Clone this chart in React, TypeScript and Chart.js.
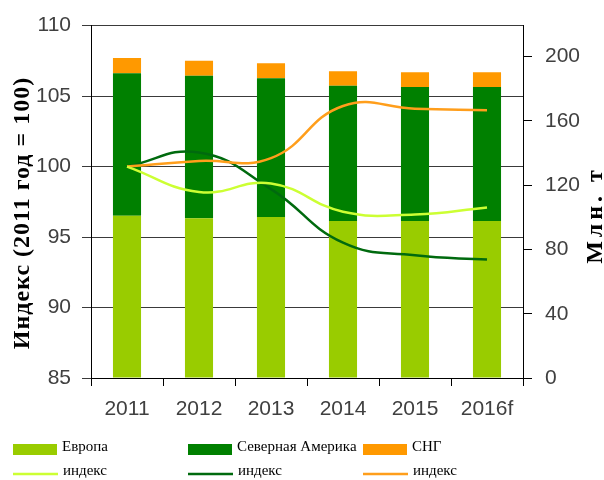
import React, { useEffect, useRef } from "react";
import { Chart, registerables } from "chart.js";

Chart.register(...registerables);

const categories = ["2011", "2012", "2013", "2014", "2015", "2016f"];
// Volumes, million tonnes (right axis)
const europeVolume = [101.0, 99.4, 100.2, 97.7, 97.7, 97.7];
const northAmericaVolume = [88.7, 88.7, 86.4, 84.2, 83.4, 83.4];
const cisVolume = [9.5, 9.4, 9.3, 9.0, 9.2, 9.2];
// Index, 2011 = 100 (left axis)
const europeIndex = [100, 98.2, 98.8, 96.8, 96.6, 97.1];
const northAmericaIndex = [100, 101.0, 98.4, 94.6, 93.7, 93.4];
const cisIndex = [100, 100.4, 100.6, 104.3, 104.1, 104.0];
// Axes
const leftMin = 85;
const leftMax = 110;
const leftStep = 5;
const rightMin = 0;
const rightMax = 219.3;
const rightStep = 40;
const rightLastTick = 200;

const leftTitle = "Индекс (2011 год = 100)";
const rightTitle = "Млн. т";
const legendRow1 = ["Европа", "Северная Америка", "СНГ"];
const legendRow2 = ["индекс", "индекс", "индекс"];

const C_EU = "#99CC00";
const C_NA = "#008000";
const C_CIS = "#FF9900";
const C_EU_L = "#CCFF33";
const C_NA_L = "#006A0E";
const C_CIS_L = "#FF9E1B";

const TICK_FONT = { family: "'Liberation Sans', Arial, sans-serif", size: 21 };
const TICK_COLOR = "#404040";

const overlayPlugin = {
  id: "overlay",
  afterDraw(chart: any) {
    const ctx = chart.ctx;
    ctx.save();
    ctx.fillStyle = "#000";
    ctx.font = "bold 24px 'Liberation Serif', 'Times New Roman', serif";
    ctx.textAlign = "center";
    ctx.textBaseline = "middle";
    // left title
    ctx.save();
    ctx.translate(23, 213);
    ctx.rotate(-Math.PI / 2);
    (ctx as any).letterSpacing = "1px";
    ctx.fillText(leftTitle, 0, 0);
    ctx.restore();
    // right title
    ctx.save();
    ctx.translate(596, 215);
    ctx.rotate(-Math.PI / 2);
    (ctx as any).letterSpacing = "4px";
    ctx.fillText(rightTitle, 0, 0);
    ctx.restore();

    // legend
    const cols = [13, 188, 363];
    const rectColors = [C_EU, C_NA, C_CIS];
    const lineColors = [C_EU_L, C_NA_L, C_CIS_L];
    ctx.font = "15px 'Liberation Serif', 'Times New Roman', serif";
    ctx.textAlign = "left";
    ctx.textBaseline = "middle";
    for (let i = 0; i < 3; i++) {
      const x = cols[i];
      ctx.fillStyle = rectColors[i];
      ctx.fillRect(x, 444, 44, 11);
      ctx.fillStyle = "#000";
      ctx.fillText(legendRow1[i], x + 49, 447);
      ctx.strokeStyle = lineColors[i];
      ctx.lineWidth = 2.5;
      ctx.beginPath();
      ctx.moveTo(x, 474);
      ctx.lineTo(x + 45, 474);
      ctx.stroke();
      ctx.fillStyle = "#000";
      ctx.fillText(legendRow2[i], x + 50, 471);
    }
    ctx.restore();
  },
};

export default function App() {
  const ref = useRef<HTMLCanvasElement | null>(null);
  useEffect(() => {
    if (!ref.current) return;
    const lineDs = (label: string, data: number[], color: string) => ({
      type: "line" as const,
      label,
      data,
      yAxisID: "y",
      borderColor: color,
      backgroundColor: color,
      borderWidth: 2.5,
      pointRadius: 0,
      tension: 0.45,
      fill: false,
      order: 0,
    });
    const barDs = (label: string, data: number[], color: string) => ({
      type: "bar" as const,
      label,
      data,
      yAxisID: "y1",
      backgroundColor: color,
      borderWidth: 0,
      stack: "vol",
      categoryPercentage: 1,
      barPercentage: 0.39,
      order: 1,
    });
    const chart = new Chart(ref.current, {
      type: "bar",
      data: {
        labels: categories,
        datasets: [
          barDs("Европа", europeVolume, C_EU),
          barDs("Северная Америка", northAmericaVolume, C_NA),
          barDs("СНГ", cisVolume, C_CIS),
          lineDs("индекс Европа", europeIndex, C_EU_L),
          lineDs("индекс СНГ", cisIndex, C_CIS_L),
          lineDs("индекс Северная Америка", northAmericaIndex, C_NA_L),
        ] as any,
      },
      options: {
        animation: false,
        responsive: false,
        maintainAspectRatio: false,
        layout: { padding: { top: 23, left: 0, right: 0, bottom: 0 } },
        plugins: { legend: { display: false }, tooltip: { enabled: false } },
        scales: {
          x: {
            stacked: true,
            offset: true,
            grid: {
              display: true,
              offset: true,
              drawOnChartArea: false,
              drawTicks: true,
              tickLength: 8,
              color: "#000",
              lineWidth: 1,
            },
            border: { display: true, color: "#000", width: 1 },
            ticks: { font: TICK_FONT, color: TICK_COLOR, padding: 11, maxRotation: 0 },
            afterFit(s: any) {
              s.height = 102;
            },
          },
          y: {
            position: "left",
            min: leftMin,
            max: leftMax,
            stacked: false,
            ticks: { stepSize: leftStep, font: TICK_FONT, color: TICK_COLOR, padding: 11 },
            grid: { color: "#3a3a3a", lineWidth: 1, tickLength: 9, drawTicks: true },
            border: { display: true, color: "#000", width: 1 },
            afterFit(s: any) {
              s.width = 91;
            },
          },
          y1: {
            position: "right",
            min: rightMin,
            max: rightMax,
            stacked: true,
            ticks: { stepSize: rightStep, font: TICK_FONT, color: TICK_COLOR, padding: 13 },
            afterBuildTicks(s: any) {
              s.ticks = s.ticks.filter((t: any) => t.value <= rightLastTick + 0.01);
            },
            grid: { drawOnChartArea: false, color: "#000", tickLength: 9, drawTicks: true },
            border: { display: true, color: "#000", width: 1 },
            afterFit(s: any) {
              s.width = 81;
            },
          },
        },
      } as any,
      plugins: [overlayPlugin],
    });
    return () => chart.destroy();
  }, []);
  return (
    <div style={{ position: "fixed", left: 0, top: 0, width: 604, height: 480, background: "#fff" }}>
      <canvas ref={ref} width={604} height={480} style={{ width: 604, height: 480 }} />
    </div>
  );
}
